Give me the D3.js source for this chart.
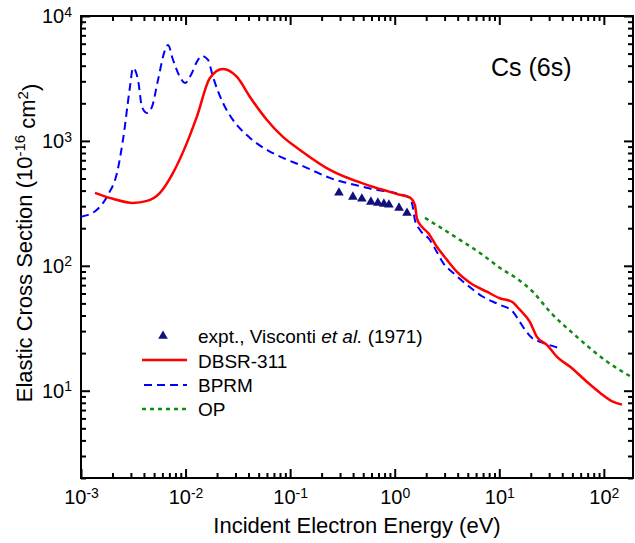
<!DOCTYPE html>
<html>
<head>
<meta charset="utf-8">
<script src="https://cdn.jsdelivr.net/npm/d3@7"></script>
<style>
  body { margin: 0; background: #fff; }
  text { font-family: "Liberation Sans", Arial, sans-serif; fill: #000; }
</style>
</head>
<body>
<div id="chart"></div>
<script>
// Data (energy in eV, cross section in 1e-16 cm^2)
const dbsrE = [0.00136, 0.00202, 0.00314, 0.00428, 0.00569, 0.00759, 0.0103, 0.0128, 0.0171, 0.0228, 0.0310, 0.0413, 0.060, 0.0853, 0.124, 0.240, 0.542, 0.90, 1.12, 1.34, 1.40, 1.56, 1.63, 1.82, 2.08, 2.53, 3.15, 3.94, 5.24, 7.6, 10.1, 13.2, 15.7, 19.6, 22.9, 28.5, 36.3, 47.3, 68.7, 91.6, 122, 149];
const dbsrS = [384, 344, 319, 331, 384, 555, 964, 1556, 3192, 3767, 3251, 2249, 1472, 1076, 847, 586, 445, 391, 370, 358, 352, 308, 240, 205, 184, 142, 112, 89.5, 73.1, 62, 55, 51.5, 44.5, 35.6, 27, 23.3, 18.4, 15.6, 11.8, 9.64, 8.17, 7.73];

const bprmE = [0.00100, 0.00142, 0.00181, 0.00221, 0.00252, 0.00294, 0.00314, 0.00351, 0.00383, 0.00428, 0.00477, 0.00545, 0.00636, 0.00679, 0.00759, 0.00884, 0.00986, 0.0115, 0.0128, 0.0144, 0.0164, 0.0183, 0.0228, 0.0284, 0.0413, 0.060, 0.0853, 0.124, 0.240, 0.54, 1.40, 1.49, 1.56, 1.74, 2.17, 2.53, 2.89, 3.61, 4.9, 6.97, 10.1, 13.5, 15.7, 17.6, 20.5, 26.1, 39.6];
const bprmS = [247, 281, 370, 555, 1019, 2704, 3837, 3076, 1871, 1675, 1871, 3076, 5346, 5861, 4446, 3251, 2911, 3499, 4285, 4786, 4446, 3251, 2014, 1472, 1057, 847, 731, 643, 506, 421, 350, 296, 233, 194, 161, 129, 106, 88, 70.5, 56.5, 48.8, 42.9, 35.6, 30.8, 26.5, 24.2, 21.7];

const opE = [1.95, 3.94, 6.97, 10.1, 15.3, 20.9, 30.5, 55.2, 107, 189];
const opS = [242, 167, 122, 96.4, 77.3, 62, 42.9, 27, 17.1, 12.7];

const exptE = [0.293, 0.398, 0.485, 0.592, 0.690, 0.788, 0.88, 1.10, 1.31];
const exptS = [384, 356, 344, 325, 319, 313, 308, 291, 265];

const xMajor = [1e-3, 1e-2, 1e-1, 1, 10, 100];
const xMajorExp = ["-3", "-2", "-1", "0", "1", "2"];
const yMajor = [10, 100, 1000, 10000];
const yMajorExp = ["1", "2", "3", "4"];

const legendNames = ["expt., Visconti ", "DBSR-311", "BPRM", "OP"];

const W = 635, H = 543;
const plot = {left: 81, right: 633, top: 16, bottom: 478};

const svg = d3.select("#chart").append("svg")
  .attr("width", W).attr("height", H);

const x = d3.scaleLog().domain([1e-3, 190]).range([plot.left, plot.right]);
const y = d3.scaleLog().domain([2, 1e4]).range([plot.bottom, plot.top]);

// minor tick values
const xMinor = [];
for (let d = -3; d <= 2; d++) for (let m = 2; m <= 9; m++) {
  const v = m * Math.pow(10, d);
  if (v < 190) xMinor.push(v);
}
const yMinor = [];
for (let d = 0; d <= 3; d++) for (let m = 2; m <= 9; m++) yMinor.push(m * Math.pow(10, d));

function supLabels(sel, exps, vals) {
  sel.selectAll(".tick text").each(function(d) {
    const t = d3.select(this);
    const i = vals.indexOf(d);
    t.text("10");
    t.append("tspan").attr("dy", "-0.45em").attr("font-size", "14px").text(exps[i]);
  });
}

// bottom axis
const gxB = svg.append("g").attr("transform", `translate(0,${plot.bottom})`)
  .call(d3.axisBottom(x).tickValues(xMajor).tickSizeInner(-9).tickSizeOuter(0).tickPadding(12).tickFormat(() => ""))
  .call(g => g.select(".domain").remove());
gxB.selectAll("text").attr("font-size", "20px");
supLabels(gxB, xMajorExp, xMajor);
svg.append("g").attr("transform", `translate(0,${plot.bottom})`)
  .call(d3.axisBottom(x).tickValues(xMinor).tickSizeInner(-5).tickSizeOuter(0).tickFormat(""))
  .call(g => g.select(".domain").remove());

// top axis
svg.append("g").attr("transform", `translate(0,${plot.top})`)
  .call(d3.axisTop(x).tickValues(xMajor).tickSizeInner(-9).tickSizeOuter(0).tickFormat(""))
  .call(g => g.select(".domain").remove());
svg.append("g").attr("transform", `translate(0,${plot.top})`)
  .call(d3.axisTop(x).tickValues(xMinor).tickSizeInner(-5).tickSizeOuter(0).tickFormat(""))
  .call(g => g.select(".domain").remove());

// left axis
const gyL = svg.append("g").attr("transform", `translate(${plot.left},0)`)
  .call(d3.axisLeft(y).tickValues(yMajor).tickSizeInner(-9).tickSizeOuter(0).tickPadding(9).tickFormat(() => ""))
  .call(g => g.select(".domain").remove());
gyL.selectAll("text").attr("font-size", "20px");
supLabels(gyL, yMajorExp, yMajor);
svg.append("g").attr("transform", `translate(${plot.left},0)`)
  .call(d3.axisLeft(y).tickValues(yMinor).tickSizeInner(-5).tickSizeOuter(0).tickFormat(""))
  .call(g => g.select(".domain").remove());

// right axis
svg.append("g").attr("transform", `translate(${plot.right},0)`)
  .call(d3.axisRight(y).tickValues(yMajor).tickSizeInner(-9).tickSizeOuter(0).tickFormat(""))
  .call(g => g.select(".domain").remove());
svg.append("g").attr("transform", `translate(${plot.right},0)`)
  .call(d3.axisRight(y).tickValues(yMinor).tickSizeInner(-5).tickSizeOuter(0).tickFormat(""))
  .call(g => g.select(".domain").remove());

svg.selectAll(".tick line").attr("stroke", "#000").attr("stroke-width", 2);

// frame
svg.append("rect")
  .attr("x", plot.left).attr("y", plot.top)
  .attr("width", plot.right - plot.left).attr("height", plot.bottom - plot.top)
  .attr("fill", "none").attr("stroke", "#000").attr("stroke-width", 2);

// curves
const line = d3.line().x(d => x(d[0])).y(d => y(d[1])).curve(d3.curveMonotoneX);
const zip = (a, b) => a.map((v, i) => [v, b[i]]);

svg.append("path").datum(zip(opE, opS))
  .attr("d", line).attr("fill", "none")
  .attr("stroke", "#138a13").attr("stroke-width", 2.5).attr("stroke-dasharray", "4,4");

svg.append("path").datum(zip(bprmE, bprmS))
  .attr("d", line).attr("fill", "none")
  .attr("stroke", "#0000ff").attr("stroke-width", 2).attr("stroke-dasharray", "8,5");

svg.append("path").datum(zip(dbsrE, dbsrS))
  .attr("d", line).attr("fill", "none")
  .attr("stroke", "#ff0000").attr("stroke-width", 2.5);

const tri = d3.symbol().type(d3.symbolTriangle).size(40);
svg.selectAll(".expt").data(zip(exptE, exptS)).join("path")
  .attr("class", "expt")
  .attr("d", tri)
  .attr("transform", d => `translate(${x(d[0])},${y(d[1])})`)
  .attr("fill", "#10107c");

// legend
const lg = svg.append("g");
lg.append("path").attr("d", tri).attr("transform", "translate(163,336)").attr("fill", "#10107c");
lg.append("line").attr("x1", 142).attr("x2", 187).attr("y1", 360).attr("y2", 360)
  .attr("stroke", "#ff0000").attr("stroke-width", 2.5);
lg.append("line").attr("x1", 142).attr("x2", 187).attr("y1", 385).attr("y2", 385)
  .attr("stroke", "#0000ff").attr("stroke-width", 2).attr("stroke-dasharray", "8,5").attr("stroke-dashoffset", -2);
lg.append("line").attr("x1", 142).attr("x2", 187).attr("y1", 409).attr("y2", 409)
  .attr("stroke", "#138a13").attr("stroke-width", 2.5).attr("stroke-dasharray", "4,4");

const legY = [343, 368, 392, 416];
legendNames.forEach((name, i) => {
  const t = lg.append("text").attr("x", 198).attr("y", legY[i]).attr("font-size", "19px").text(name);
  if (i === 0) {
    t.append("tspan").attr("font-style", "italic").text("et al.");
    t.append("tspan").text(" (1971)");
  }
});

// annotation
svg.append("text").attr("x", 491).attr("y", 76).attr("font-size", "25px").text("Cs (6s)");

// axis titles
svg.append("text").attr("x", (plot.left + plot.right) / 2).attr("y", 533)
  .attr("text-anchor", "middle").attr("font-size", "22px")
  .text("Incident Electron Energy (eV)");

const yl = svg.append("text")
  .attr("transform", "translate(32,243) rotate(-90)")
  .attr("text-anchor", "middle").attr("font-size", "22px");
yl.append("tspan").text("Elastic Cross Section (10");
yl.append("tspan").attr("dy", "-0.45em").attr("font-size", "15px").text("-16");
yl.append("tspan").attr("dy", "0.45em").text(" cm");
yl.append("tspan").attr("dy", "-0.45em").attr("font-size", "15px").text("2");
yl.append("tspan").attr("dy", "0.45em").text(")");
</script>
</body>
</html>
